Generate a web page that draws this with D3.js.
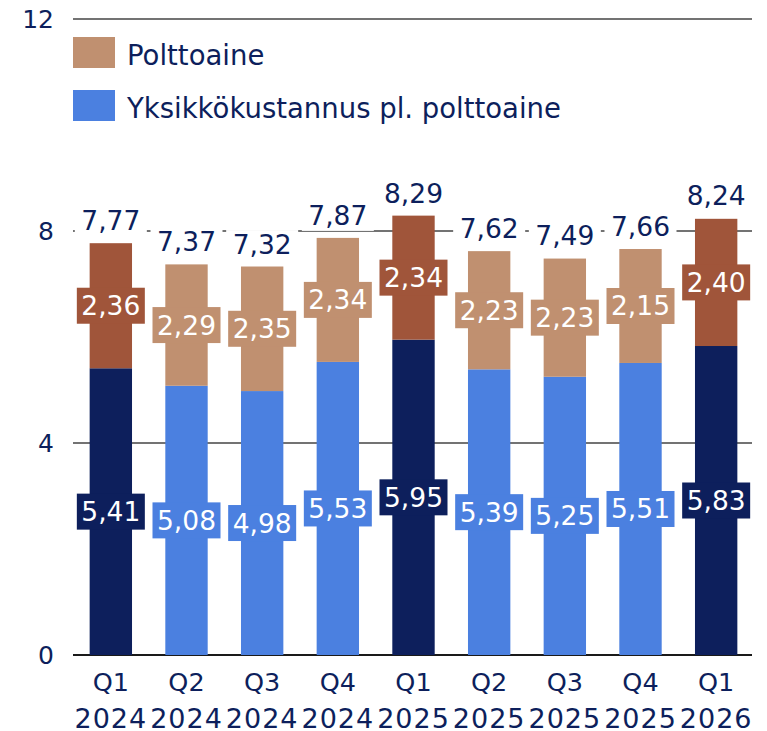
<!DOCTYPE html>
<html>
<head>
<meta charset="utf-8">
<style>
  body { margin: 0; background: #fff; }
  text { font-family: "DejaVu Sans", sans-serif; fill: #0d1f5c; }
</style>
<script src="https://d3js.org/d3.v7.min.js"></script>
</head>
<body>
<svg id="chart" width="767" height="731"></svg>
<script>
// data
var quarters = ["Q1", "Q2", "Q3", "Q4", "Q1", "Q2", "Q3", "Q4", "Q1"];
var years = ["2024", "2024", "2024", "2024", "2025", "2025", "2025", "2025", "2026"];
var unitCost = [5.41, 5.08, 4.98, 5.53, 5.95, 5.39, 5.25, 5.51, 5.83];
var fuel = [2.36, 2.29, 2.35, 2.34, 2.34, 2.23, 2.23, 2.15, 2.40];
var totals = [7.77, 7.37, 7.32, 7.87, 8.29, 7.62, 7.49, 7.66, 8.24];
var highlight = [true, false, false, false, true, false, false, false, true];
var yTicks = [0, 4, 8, 12];
var legendNames = ["Polttoaine", "Yksikkökustannus pl. polttoaine"];

var colBlue = "#4b80e0", colNavy = "#0d1f5c";
var colFuel = "#c09070", colFuelDark = "#a0553a";

var svg = d3.select("#chart");
var fmt = function(v) { return v.toFixed(2).replace(".", ","); };

var x = d3.scaleBand()
  .domain(d3.range(quarters.length))
  .range([73, 754])
  .paddingInner(0.44)
  .paddingOuter(0.22);

var y = d3.scaleLinear().domain([0, 12]).range([655, 19]);

// gridlines
svg.append("g").selectAll("line")
  .data(yTicks)
  .enter().append("line")
  .attr("x1", 73).attr("x2", 752)
  .attr("y1", function(d) { return y(d); })
  .attr("y2", function(d) { return y(d); })
  .attr("stroke", function(d) { return d == 0 ? "#1a1a1a" : "#444"; })
  .attr("stroke-width", function(d) { return d == 0 ? 2 : 1.3; });

svg.append("g").selectAll("text")
  .data(yTicks)
  .enter().append("text")
  .attr("x", 54)
  .attr("y", function(d) { return y(d) + 9; })
  .attr("text-anchor", "end")
  .attr("font-size", 25)
  .text(function(d) { return d; });

// bars
var bars = svg.append("g").selectAll("g")
  .data(d3.range(quarters.length))
  .enter().append("g");

bars.append("rect")
  .attr("x", function(i) { return x(i); })
  .attr("width", x.bandwidth())
  .attr("y", function(i) { return y(unitCost[i]); })
  .attr("height", function(i) { return y(0) - y(unitCost[i]); })
  .attr("fill", function(i) { return highlight[i] ? colNavy : colBlue; });

bars.append("rect")
  .attr("x", function(i) { return x(i); })
  .attr("width", x.bandwidth())
  .attr("y", function(i) { return y(unitCost[i] + fuel[i]); })
  .attr("height", function(i) { return y(unitCost[i]) - y(unitCost[i] + fuel[i]); })
  .attr("fill", function(i) { return highlight[i] ? colFuelDark : colFuel; });

// segment labels with boxes
function segLabel(sel, mid, val, col) {
  var g = sel.append("g")
    .attr("transform", function(i) { return "translate(" + (x(i) + x.bandwidth() / 2) + "," + y(mid(i)) + ")"; });
  g.append("rect")
    .attr("x", -34).attr("y", -18).attr("width", 68).attr("height", 36)
    .attr("fill", col);
  g.append("text")
    .attr("y", 9.5)
    .attr("text-anchor", "middle")
    .attr("font-size", 26.5)
    .style("fill", "#fff")
    .text(function(i) { return fmt(val[i]); });
}
segLabel(bars, function(i) { return unitCost[i] / 2; }, unitCost,
  function(i) { return highlight[i] ? colNavy : colBlue; });
segLabel(bars, function(i) { return unitCost[i] + fuel[i] / 2; }, fuel,
  function(i) { return highlight[i] ? colFuelDark : colFuel; });

// totals
var tot = bars.append("g")
  .attr("transform", function(i) { return "translate(" + (x(i) + x.bandwidth() / 2) + "," + (y(totals[i]) - 13) + ")"; });
tot.append("rect")
  .attr("x", -36).attr("y", -24).attr("width", 72).attr("height", 30)
  .attr("fill", "#fff");
tot.append("text")
  .attr("text-anchor", "middle")
  .attr("font-size", 26.5)
  .text(function(i) { return fmt(totals[i]); });

// x labels
bars.append("text")
  .attr("x", function(i) { return x(i) + x.bandwidth() / 2; })
  .attr("y", 691)
  .attr("text-anchor", "middle")
  .attr("font-size", 25.5)
  .text(function(i) { return quarters[i]; });
bars.append("text")
  .attr("x", function(i) { return x(i) + x.bandwidth() / 2; })
  .attr("y", 728)
  .attr("text-anchor", "middle")
  .attr("font-size", 27)
  .attr("letter-spacing", 1)
  .text(function(i) { return years[i]; });

// legend
var leg = svg.append("g").selectAll("g")
  .data(legendNames)
  .enter().append("g")
  .attr("transform", function(d, i) { return "translate(73," + (37 + i * 53) + ")"; });
leg.append("rect")
  .attr("width", 42).attr("height", 31)
  .attr("fill", function(d, i) { return i == 0 ? colFuel : colBlue; });
leg.append("text")
  .attr("x", 54).attr("y", 28)
  .attr("font-size", 27.5)
  .text(function(d) { return d; });
</script>
</body>
</html>
